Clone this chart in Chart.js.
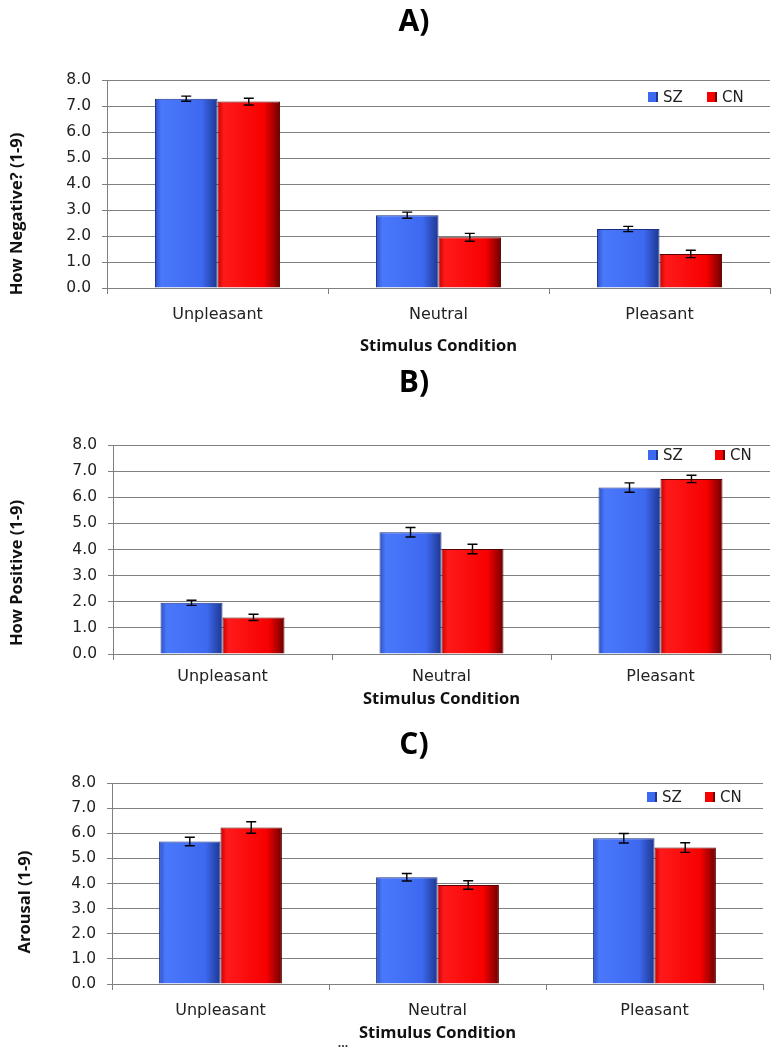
<!DOCTYPE html>
<html>
<head>
<meta charset="utf-8">
<script src="https://cdn.jsdelivr.net/npm/chart.js@4.4.1/dist/chart.umd.min.js"></script>
<style>
  html, body { margin: 0; padding: 0; background: #fff; }
  body { width: 773px; height: 1050px; position: relative; overflow: hidden; }
  canvas { position: absolute; left: 0; }
</style>
</head>
<body>
<canvas id="chartA" width="773" height="362" style="top:0px"></canvas>
<canvas id="chartB" width="773" height="355" style="top:362px"></canvas>
<canvas id="chartC" width="773" height="333" style="top:717px"></canvas>
<script>
// categories + series
let categories = ["Unpleasant", "Neutral", "Pleasant"];
let seriesNames = ["SZ", "CN"];
let yMax = 8;

// A) how negative
let negSZ = [7.28, 2.8, 2.27];
let negCN = [7.17, 1.95, 1.31];
let negSZErr = [0.1, 0.12, 0.1];
let negCNErr = [0.13, 0.15, 0.14];

// B) how positive
let posSZ = [1.96, 4.66, 6.37];
let posCN = [1.4, 4.02, 6.7];
let posSZErr = [0.1, 0.18, 0.18];
let posCNErr = [0.12, 0.18, 0.14];

// C) arousal
let arSZ = [5.67, 4.25, 5.8];
let arCN = [6.23, 3.94, 5.43];
let arSZErr = [0.17, 0.15, 0.19];
let arCNErr = [0.23, 0.17, 0.19];

let blue = { edge: "#2b50c4", light: "#4a78fb", mid: "#3d69f0", dark: "#1d368f" };
let red = { edge: "#c80000", light: "#ff1a1a", mid: "#f70000", dark: "#6e0000" };
let gridColor = "#808080";

function barFill(base) {
  return (c) => {
    if (c.type !== "data") return base.mid;
    let el = c.chart.getDatasetMeta(c.datasetIndex).data[c.dataIndex];
    if (!el || el.x == null || isNaN(el.x) || !el.width) return base.mid;
    let half = el.width / 2;
    let g = c.chart.ctx.createLinearGradient(el.x - half, 0, el.x + half, 0);
    g.addColorStop(0, base.edge);
    g.addColorStop(0.1, base.light);
    g.addColorStop(0.75, base.mid);
    g.addColorStop(1, base.dark);
    return g;
  };
}

// error bars, headings, y title, legend
let decor = {
  id: "decor",
  afterDatasetsDraw(chart, args, opts) {
    let ctx = chart.ctx;
    let y = chart.scales.y;
    ctx.save();
    ctx.strokeStyle = "#000";
    ctx.lineWidth = 1.4;
    opts.errors.forEach((errs, i) => {
      let meta = chart.getDatasetMeta(i);
      meta.data.forEach((bar, j) => {
        let v = chart.data.datasets[i].data[j];
        let top = y.getPixelForValue(v + errs[j]);
        let bot = y.getPixelForValue(v - errs[j]);
        ctx.beginPath();
        ctx.moveTo(bar.x, top); ctx.lineTo(bar.x, bot);
        ctx.moveTo(bar.x - 5, top); ctx.lineTo(bar.x + 5, top);
        ctx.moveTo(bar.x - 5, bot); ctx.lineTo(bar.x + 5, bot);
        ctx.stroke();
      });
    });
    ctx.restore();
  },
  afterDraw(chart, args, opts) {
    let ctx = chart.ctx;
    ctx.save();
    ctx.fillStyle = "#000";
    ctx.textAlign = "center";
    ctx.textBaseline = "middle";
    ctx.font = "bold 30px 'Open Sans'";
    ctx.fillText(opts.heading, opts.headingX, opts.headingY);

    ctx.save();
    ctx.translate(opts.yTitleX, opts.yTitleY);
    ctx.rotate(-Math.PI / 2);
    ctx.font = "bold 16.5px 'Open Sans'";
    ctx.fillStyle = "#111";
    ctx.fillText(opts.yTitle, 0, 0);
    ctx.restore();

    // legend
    ctx.font = "15px 'DejaVu Sans'";
    ctx.textAlign = "left";
    chart.data.datasets.forEach((ds, i) => {
      let lx = opts.legend.x + i * opts.legend.gap;
      let ly = opts.legend.y;
      let c = i === 0 ? blue : red;
      ctx.fillStyle = c.mid;
      ctx.fillRect(lx, ly - 5, 10, 10);
      ctx.fillStyle = c.dark;
      ctx.fillRect(lx + 8, ly - 5, 2, 10);
      ctx.fillStyle = "#222";
      ctx.fillText(ds.label, lx + 15, ly + 1);
    });

    if (opts.note) {
      ctx.textAlign = "center";
      ctx.font = "bold 12px 'Open Sans'";
      ctx.fillStyle = "#333";
      ctx.fillText(opts.note.text, opts.note.x, opts.note.y);
    }
    ctx.restore();
  },
};

function makeChart(id, sz, cn, szErr, cnErr, cfg) {
  let chart = new Chart(document.getElementById(id), {
    type: "bar",
    data: {
      labels: categories,
      datasets: [
        {
          label: seriesNames[0],
          data: sz,
          backgroundColor: barFill(blue),
          borderColor: "#1a2f80",
          borderWidth: 1,
        },
        {
          label: seriesNames[1],
          data: cn,
          backgroundColor: barFill(red),
          borderColor: "#5a0000",
          borderWidth: 1,
        },
      ],
    },
    options: {
      responsive: false,
      animation: false,
      devicePixelRatio: 1,
      events: [],
      layout: { padding: { top: cfg.top, right: 773 - cfg.right, left: 0, bottom: 0 } },
      datasets: { bar: { categoryPercentage: 0.566, barPercentage: 1 } },
      plugins: {
        legend: { display: false },
        tooltip: { enabled: false },
        decor: {
          errors: [szErr, cnErr],
          heading: cfg.heading,
          headingX: 414,
          headingY: cfg.headingY,
          yTitle: cfg.yTitle,
          yTitleX: cfg.yTitleX,
          yTitleY: cfg.yTitleY,
          legend: cfg.legend,
          note: cfg.note,
        },
      },
      scales: {
        x: {
          grid: { drawOnChartArea: false, drawTicks: true, tickLength: 6, color: gridColor, offset: true },
          border: { color: gridColor },
          ticks: {
            color: "#222",
            font: { family: "DejaVu Sans", size: 16 },
            padding: cfg.tickPad,
            maxRotation: 0,
          },
          title: {
            display: true,
            text: "Stimulus Condition",
            color: "#111",
            font: { family: "Open Sans", size: 16.5, weight: "bold" },
            padding: { top: 0, bottom: cfg.titlePad },
          },
          afterFit: (s) => {
            s.height = cfg.h - cfg.bottom;
          },
        },
        y: {
          min: 0,
          max: yMax,
          ticks: {
            stepSize: 1,
            callback: (v) => v.toFixed(1),
            color: "#222",
            font: { family: "DejaVu Sans", size: 15.5 },
            padding: 11,
          },
          grid: { color: gridColor, tickLength: 5 },
          border: { color: gridColor },
          afterFit: (s) => {
            s.width = cfg.left;
          },
        },
      },
    },
    plugins: [decor],
  });
  // second pass so the bar gradients know the bar geometry
  chart.update("none");
  return chart;
}

makeChart("chartA", negSZ, negCN, negSZErr, negCNErr, {
  h: 362, top: 80, bottom: 288, left: 107, right: 770,
  tickPad: 11, titlePad: 6,
  heading: "A)", headingY: 22,
  yTitle: "How Negative? (1-9)", yTitleX: 17, yTitleY: 214,
  legend: { x: 648, y: 97, gap: 59 },
});

makeChart("chartB", posSZ, posCN, posSZErr, posCNErr, {
  h: 355, top: 83, bottom: 292, left: 113, right: 770,
  tickPad: 7, titlePad: 8,
  heading: "B)", headingY: 21,
  yTitle: "How Positive (1-9)", yTitleX: 17, yTitleY: 211,
  legend: { x: 648, y: 93, gap: 67 },
});

makeChart("chartC", arSZ, arCN, arSZErr, arCNErr, {
  h: 333, top: 66, bottom: 267, left: 112, right: 763,
  tickPad: 11, titlePad: 7,
  heading: "C)", headingY: 28,
  yTitle: "Arousal (1-9)", yTitleX: 25, yTitleY: 185,
  legend: { x: 647, y: 80, gap: 58 },
  note: { text: "...", x: 343, y: 327 },
});
</script>
</body>
</html>
